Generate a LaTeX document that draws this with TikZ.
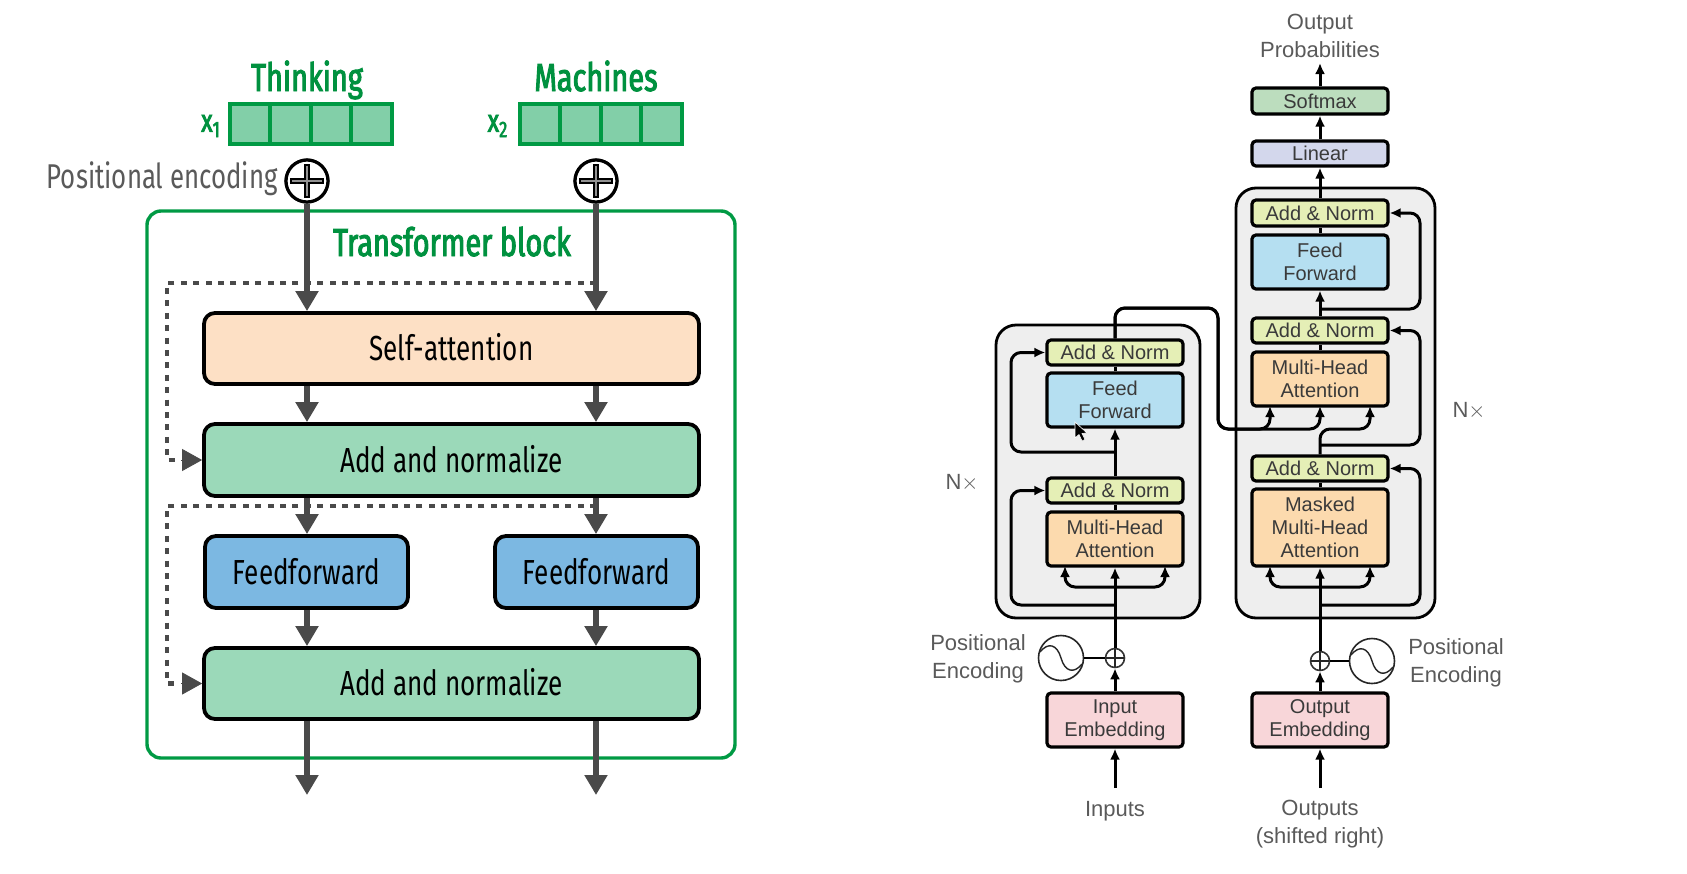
\documentclass[tikz,border=0pt]{standalone}
\usepackage{fontspec}
\setmainfont{Liberation Sans}
\newfontfamily\cond[FakeStretch=0.75]{Fira Sans}
\newfontfamily\condb[FakeStretch=0.74,FakeBold=2.5]{Fira Sans}
\usetikzlibrary{arrows.meta,calc}
\definecolor{tgreen}{HTML}{00913F}
\definecolor{fgreen}{HTML}{009A44}
\definecolor{vecfill}{HTML}{82CFA8}
\definecolor{saf}{HTML}{FDE0C5}
\definecolor{anf}{HTML}{9BD9B9}
\definecolor{fff}{HTML}{7CB8E2}
\definecolor{darrow}{HTML}{4A4A4A}
\definecolor{rtext}{HTML}{3A3A3A}
\definecolor{rlabel}{HTML}{5A5A5A}
\definecolor{cyel}{HTML}{E5EFB6}
\definecolor{cblue}{HTML}{B5DFF1}
\definecolor{corg}{HTML}{FCDAAE}
\definecolor{cpink}{HTML}{F8D6D9}
\definecolor{cgreen}{HTML}{BCDDBE}
\definecolor{clav}{HTML}{D3D7EC}
\definecolor{cgray}{HTML}{EEEEEE}
\newcommand{\bx}[7]{%
  \pgfmathsetmacro\cxx{(#3+#5)/2}\pgfmathsetmacro\cyy{(#4+#6)/2}%
  \pgfmathsetmacro\ww{(#5-#3)/2}\pgfmathsetmacro\hh{(#6-#4)/2}%
  \node[#2,minimum width=\ww pt,minimum height=\hh pt] (#1) at (\cxx,\cyy) {#7};}
\tikzset{
  lbox/.style={draw=black,line width=1.9pt,rounded corners=5.5pt,inner sep=0pt,text=black,text height=13.6pt,text depth=1.4pt,font=\cond\fontsize{17.4}{20}\selectfont},
  safill/.style={lbox,fill=saf},
  anfill/.style={lbox,fill=anf},
  fffill/.style={lbox,fill=fff},
  frameg/.style={draw=fgreen,line width=1.7pt,rounded corners=7pt,inner sep=0pt},
  vecbox/.style={draw=fgreen,line width=1.6pt,fill=vecfill,inner sep=0pt},
  gtitle/.style={text=tgreen,text height=14pt,text depth=4pt,font=\condb\fontsize{19.5}{22}\selectfont,inner sep=0pt},
  gsmall/.style={text=tgreen,font=\condb\fontsize{16}{18}\selectfont,inner sep=0pt},
  plabel/.style={text=rlabel,font=\cond\fontsize{17.2}{20}\selectfont,inner sep=0pt},
  pluscirc/.style={circle,draw=black,line width=1.5pt,fill=white,minimum size=21pt,inner sep=0pt},
  plusbar/.style={draw=black,line width=2.8pt},
  plusin/.style={draw=darrow!60,line width=0.8pt},
  darr/.style={draw=darrow,line width=2.7pt,-{Triangle[width=11pt,length=10pt]}},
  dashline/.style={draw=darrow,line width=2.3pt,dash pattern=on 3pt off 3.2pt},
  dtip/.style={draw=darrow,line width=0.4pt,-{Triangle[width=11pt,length=10pt]}},
  rbox/.style={draw=black,line width=1.6pt,rounded corners=2pt,inner sep=0pt,align=center,text=rtext,font=\fontsize{10}{11.6}\selectfont},
  gframe/.style={draw=black,line width=1.4pt,fill=cgray,rounded corners=10pt,inner sep=0pt},
  rlab/.style={text=rlabel,align=center,font=\fontsize{11}{14}\selectfont,inner sep=0pt},
  rline/.style={draw=black,line width=1.5pt},
  rarr/.style={rline,-{Latex[width=5pt,length=5.5pt]}},
  rroute/.style={rarr,rounded corners=5pt},
  rsum/.style={circle,draw=black!80,line width=0.8pt,fill=white,minimum size=9.5pt,inner sep=0pt},
  rsine/.style={circle,draw=black!85,line width=0.8pt,fill=white,minimum size=22.5pt,inner sep=0pt},
  swave/.style={draw=black!85,line width=0.7pt},
  cursor/.style={fill=black,draw=white,line width=0.3pt},
}
\begin{document}
\begin{tikzpicture}[x=0.5pt,y=-0.5pt]
\useasboundingbox (0,0) rectangle (1687,873);
\fill[white] (0,0) rectangle (1687,873);

% ---------- left panel ----------
\bx{fr}{frameg}{147}{211}{735}{758}{}
\node[gtitle] (tlabel) at (452,246) {Transformer block};
\node[gtitle] (w1) at (307,81) {Thinking};
\node[gtitle] (w2) at (596,81) {Machines};
\foreach \n/\xa in {a1/230,a2/270,a3/311,a4/351,b1/520,b2/560,b3/601,b4/641}{
  \bx{\n}{vecbox}{\xa}{104}{\xa+41}{144}{}
}
\node[gsmall] (x1) at (211,126) {x\textsubscript{1}};
\node[gsmall] (x2) at (498,126) {x\textsubscript{2}};
\node[pluscirc] (p1) at (307,181) {};
\node[pluscirc] (p2) at (596,181) {};
\node[plabel,anchor=east] (pe) at (278,179) {Positional encoding};

\bx{sa}{safill}{204}{313}{699}{384}{Self-attention}
\bx{an1}{anfill}{204}{424}{699}{496}{Add and normalize}
\bx{ff1}{fffill}{205}{536}{408}{608}{Feedforward}
\bx{ff2}{fffill}{495}{536}{698}{608}{Feedforward}
\bx{an2}{anfill}{204}{648}{699}{719}{Add and normalize}
\coordinate (out1) at (307,795);
\coordinate (out2) at (596,795);
\coordinate (dA) at (596,283);
\coordinate (dAc) at (167,283);
\coordinate (dB) at (596,506);
\coordinate (dBc) at (167,506);

\draw[dashline] (dA) -- (dAc) -- (dAc |- an1.west) -- ($(an1.west)+(-22,0)$);
\draw[dashline] (dB) -- (dBc) -- (dBc |- an2.west) -- ($(an2.west)+(-22,0)$);
\draw[dtip] ($(an1.west)+(-21,0)$) -- (an1.west);
\draw[dtip] ($(an2.west)+(-21,0)$) -- (an2.west);

\draw[darr] (p1) -- (p1 |- sa.north);
\draw[darr] (p2) -- (p2 |- sa.north);
\draw[darr] (p1 |- sa.south) -- (p1 |- an1.north);
\draw[darr] (p2 |- sa.south) -- (p2 |- an1.north);
\draw[darr] (p1 |- an1.south) -- (p1 |- ff1.north);
\draw[darr] (p2 |- an1.south) -- (p2 |- ff2.north);
\draw[darr] (p1 |- ff1.south) -- (p1 |- an2.north);
\draw[darr] (p2 |- ff2.south) -- (p2 |- an2.north);
\draw[darr] (p1 |- an2.south) -- (out1);
\draw[darr] (p2 |- an2.south) -- (out2);
% plus circles above the line starts
\foreach \n in {p1,p2}{
  \fill[white,draw=black,line width=1.6pt] (\n.center) circle[radius=21];
  \draw[plusbar] ($(\n)+(-17,0)$) -- ($(\n)+(17,0)$);
  \draw[plusbar] ($(\n)+(0,-17)$) -- ($(\n)+(0,17)$);
  \draw[plusin] ($(\n)+(-15,0)$) -- ($(\n)+(15,0)$);
  \draw[plusin] ($(\n)+(0,-15)$) -- ($(\n)+(0,15)$);
}

% ---------- right panel ----------
\bx{enc}{gframe}{996}{325}{1200}{618}{}
\bx{dec}{gframe}{1236}{188}{1435}{618}{}

\bx{sm}{rbox,fill=cgreen}{1252}{88}{1388}{114}{Softmax}
\bx{lin}{rbox,fill=clav}{1252}{141}{1388}{166}{Linear}
\bx{dan3}{rbox,fill=cyel}{1252}{200}{1388}{226}{Add \& Norm}
\bx{dff}{rbox,fill=cblue}{1252}{235}{1388}{289}{Feed\\[-0.2pt]Forward}
\bx{dan2}{rbox,fill=cyel}{1252}{318}{1388}{343}{Add \& Norm}
\bx{dmh}{rbox,fill=corg}{1252}{352}{1388}{406}{Multi-Head\\Attention}
\bx{dan1}{rbox,fill=cyel}{1252}{456}{1388}{481}{Add \& Norm}
\bx{dmm}{rbox,fill=corg}{1252}{489}{1388}{566}{Masked\\Multi-Head\\Attention}
\bx{oe}{rbox,fill=cpink}{1252}{693}{1388}{747}{Output\\Embedding}

\bx{ean2}{rbox,fill=cyel}{1047}{340}{1183}{365}{Add \& Norm}
\bx{eff}{rbox,fill=cblue}{1047}{373}{1183}{427}{Feed\\Forward}
\bx{ean1}{rbox,fill=cyel}{1047}{478}{1183}{503}{Add \& Norm}
\bx{emh}{rbox,fill=corg}{1047}{512}{1183}{566}{Multi-Head\\Attention}
\bx{ie}{rbox,fill=cpink}{1047}{693}{1183}{747}{Input\\Embedding}

\node[rsum] (es) at (1115,658) {};
\node[rsum] (ds) at (1320,661) {};
\node[rsine] (ew) at (1061,658) {};
\node[rsine] (dw) at (1372,661) {};
\foreach \n in {ew,dw}{
  \draw[swave] ($(\n)+(-21,-6)$) .. controls ($(\n)+(-13,-16)$) and ($(\n)+(-4,-14)$) .. ($(\n)$)
     .. controls ($(\n)+(4,14)$) and ($(\n)+(13,16)$) .. ($(\n)+(21,6)$);
}
\draw[rline,line width=1pt] (ew) -- (es);
\draw[rline,line width=1pt] (ds) -- (dw);

\node[rlab,anchor=center] (pel) at (978,659) {Positional\\Encoding};
\node[rlab,anchor=center] (per) at (1456,663) {Positional\\Encoding};
\node[rlab] (nl) at (962,483) {N$\times$};
\node[rlab] (nr) at (1469,411) {N$\times$};
\node[rlab] (inl) at (1115,811) {Inputs};
\node[rlab] (outl) at (1320,824) {Outputs\\(shifted right)};
\node[rlab] (prob) at (1320,36) {Output\\Probabilities};

\coordinate (inS) at (1115,788);
\coordinate (outS) at (1320,788);
\coordinate (probT) at (1320,63);
% bottom feeds
\draw[rarr] (inS) -- (ie.south);
\draw[rarr] (outS) -- (oe.south);
\draw[rarr] (ie.north) -- (es.south);
\draw[rarr] (oe.north) -- (ds.south);
\draw[rarr] (es.north) -- (emh.south);
\draw[rarr] (ds.north) -- (dmm.south);
\foreach \n in {es,ds}{
  \draw[swave] ($(\n)+(-9,0)$) -- ($(\n)+(9,0)$);
  \draw[swave] ($(\n)+(0,-9)$) -- ($(\n)+(0,9)$);
}
% encoder
\coordinate (eb) at (1115,587);
\coordinate (ebL) at (1065,566);
\coordinate (ebR) at (1165,566);
\draw[rroute] (eb) -| (ebL);
\draw[rroute] (eb) -| (ebR);
\coordinate (er1) at (1115,605);
\coordinate (er1c) at (1011,605);
\draw[rroute] (er1) -- (er1c) |- (ean1.west);
\draw[rline] (emh.north) -- (ean1.south);
\draw[rarr] (ean1.north) -- (eff.south);
\coordinate (er2) at (1115,452);
\coordinate (er2c) at (1011,452);
\draw[rroute] (er2) -- (er2c) |- (ean2.west);
\draw[rline] (eff.north) -- (ean2.south);
% cross connection
\coordinate (cr2) at (1218,308);
\coordinate (cr3) at (1218,429);
\coordinate (m1) at (1270,406);
\coordinate (m2) at (1320,406);
\coordinate (m3) at (1370,406);
\draw[rroute] (ean2.north) |- (cr2) -- (cr3) -- (m1 |- cr3) -- (m1);
\draw[rroute] (ean2.north) |- (cr2) -- (cr3) -- (m2 |- cr3) -- (m2);
% decoder
\coordinate (db) at (1320,587);
\coordinate (dbL) at (1270,566);
\coordinate (dbR) at (1370,566);
\draw[rroute] (db) -| (dbL);
\draw[rroute] (db) -| (dbR);
\coordinate (dr1) at (1320,605);
\coordinate (dr1c) at (1420,605);
\draw[rroute] (dr1) -- (dr1c) |- (dan1.east);
\draw[rline] (dmm.north) -- (dan1.south);
\coordinate (dr2) at (1320,445);
\coordinate (dr2c) at (1420,445);
\draw[rroute] (dr2) -- (dr2c) |- (dan2.east);
\coordinate (dq) at (1320,429);
\draw[rroute] (dan1.north) |- (m3 |- dq) -- (m3);
\draw[rline] (dmh.north) -- (dan2.south);
\draw[rarr] (dan2.north) -- (dff.south);
\coordinate (dr3) at (1320,309);
\coordinate (dr3c) at (1420,309);
\draw[rroute] (dr3) -- (dr3c) |- (dan3.east);
\draw[rline] (dff.north) -- (dan3.south);
\draw[rarr] (dan3.north) -- (lin.south);
\draw[rarr] (lin.north) -- (sm.south);
\draw[rarr] (sm.north) -- (probT);
% pointer
\draw[cursor] (1075,422) -- (1075,438) -- (1079,434.5) -- (1082,441) -- (1085,439.5) -- (1082,433.5) -- (1087,433) -- cycle;
\end{tikzpicture}
\end{document}
